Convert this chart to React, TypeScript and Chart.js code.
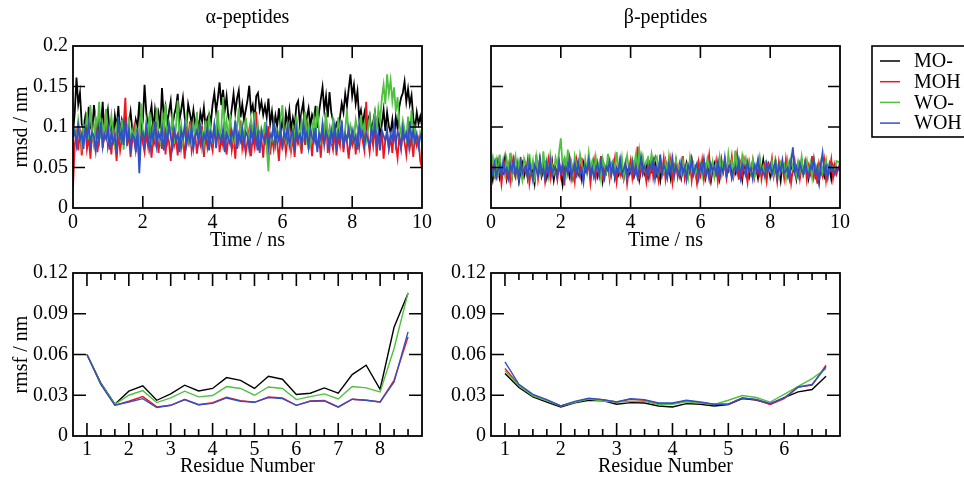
import React, { useEffect, useRef } from "react";
import { Chart, registerables } from "chart.js";

Chart.register(...registerables);

// ---------------- data ----------------
const SERIES_NAMES = ["MO-", "MOH", "WO-", "WOH"];
const PANEL_TITLES = ["α-peptides", "β-peptides"];
const TIME_STEP_NS = 0.05;
const TIME_TICKS = [0, 2, 4, 6, 8, 10];
const RMSD_TICKS = [0, 0.05, 0.1, 0.15, 0.2];
const RMSF_TICKS = [0, 0.03, 0.06, 0.09, 0.12];
const ALPHA_RESIDUE_TICKS = [1, 2, 3, 4, 5, 6, 7, 8];
const BETA_RESIDUE_TICKS = [1, 2, 3, 4, 5, 6];

// α-peptides rmsd (nm), sampled every 0.05 ns
const alphaRmsdMO = [
  .092,.118,.161,.128,.142,.104,.097,.112,.089,.125,
  .101,.094,.127,.108,.086,.119,.099,.131,.092,.106,
  .121,.095,.103,.087,.114,.098,.126,.091,.108,.097,
  .112,.088,.104,.119,.096,.085,.109,.101,.131,.094,
  .107,.152,.118,.099,.113,.126,.095,.121,.104,.117,
  .098,.148,.112,.125,.103,.119,.132,.101,.115,.124,
  .141,.108,.121,.136,.112,.098,.128,.117,.104,.121,
  .102,.113,.095,.118,.107,.124,.099,.111,.116,.105,
  .128,.142,.119,.135,.155,.127,.146,.121,.138,.113,
  .106,.123,.141,.118,.135,.145,.112,.128,.109,.121,
  .133,.151,.119,.127,.108,.138,.142,.121,.131,.115,
  .126,.112,.135,.104,.119,.097,.114,.101,.123,.095,
  .108,.091,.117,.103,.121,.096,.111,.099,.127,.132,
  .104,.119,.131,.097,.112,.123,.101,.115,.108,.126,
  .099,.118,.134,.149,.121,.138,.112,.143,.118,.108,
  .097,.104,.095,.112,.129,.118,.141,.126,.147,.165,
  .138,.152,.129,.144,.112,.121,.103,.117,.098,.109,
  .115,.094,.106,.118,.099,.112,.087,.104,.121,.095,
  .118,.101,.093,.109,.087,.112,.098,.125,.136,.142,
  .156,.131,.147,.128,.139,.111,.097,.118,.104,.113,
  .101,
];
const alphaRmsdMOH = [
  .025,.078,.092,.071,.098,.065,.084,.102,.073,.088,
  .061,.094,.079,.105,.069,.087,.112,.074,.091,.122,
  .076,.089,.066,.098,.083,.058,.093,.071,.086,.101,
  .136,.077,.091,.063,.084,.099,.072,.088,.057,.095,
  .081,.069,.092,.076,.104,.062,.087,.079,.095,.068,
  .089,.073,.118,.066,.091,.082,.058,.094,.077,.086,
  .065,.099,.074,.088,.061,.093,.082,.107,.071,.084,
  .092,.067,.086,.078,.101,.063,.089,.075,.094,.082,
  .071,.096,.084,.112,.069,.088,.077,.093,.066,.085,
  .098,.072,.087,.061,.094,.081,.108,.074,.089,.068,
  .083,.097,.064,.088,.076,.119,.071,.092,.085,.062,
  .094,.078,.101,.066,.087,.073,.095,.081,.058,.089,
  .076,.092,.068,.085,.099,.071,.088,.063,.091,.079,
  .084,.067,.096,.078,.108,.072,.089,.064,.093,.081,
  .074,.087,.062,.095,.079,.113,.068,.091,.083,.072,
  .096,.065,.088,.077,.102,.069,.092,.081,.061,.087,
  .078,.094,.066,.089,.075,.098,.083,.071,.131,.086,
  .069,.092,.077,.104,.064,.088,.079,.095,.061,.084,
  .091,.073,.087,.068,.096,.078,.062,.089,.075,.093,
  .081,.066,.099,.074,.088,.063,.092,.077,.085,.058,
  .049,
];
const alphaRmsdWO = [
  .088,.097,.082,.108,.091,.076,.103,.094,.118,.085,
  .127,.092,.079,.111,.098,.131,.086,.104,.093,.122,
  .081,.096,.114,.089,.077,.102,.093,.085,.109,.072,
  .098,.087,.113,.079,.095,.084,.101,.091,.076,.129,
  .096,.083,.107,.092,.118,.078,.101,.088,.124,.094,
  .082,.112,.097,.129,.086,.104,.091,.117,.079,.099,
  .133,.088,.103,.081,.096,.112,.084,.098,.076,.105,
  .091,.118,.083,.102,.094,.079,.108,.087,.113,.096,
  .085,.104,.092,.121,.086,.099,.137,.094,.108,.082,
  .116,.093,.081,.105,.097,.124,.088,.101,.079,.112,
  .094,.083,.109,.091,.118,.086,.102,.077,.098,.089,
  .106,.074,.045,.092,.085,.103,.079,.096,.088,.111,
  .127,.091,.082,.104,.093,.078,.099,.087,.114,.095,
  .081,.108,.092,.119,.086,.101,.075,.097,.112,.089,
  .126,.094,.083,.106,.091,.118,.087,.099,.079,.108,
  .095,.084,.112,.091,.103,.078,.097,.121,.086,.102,
  .093,.081,.109,.098,.087,.115,.092,.104,.083,.096,
  .112,.089,.101,.118,.095,.123,.108,.136,.152,.128,
  .165,.141,.158,.132,.149,.119,.137,.104,.091,.108,
  .097,.086,.113,.092,.121,.084,.099,.088,.076,.093,
  .085,
];
const alphaRmsdWOH = [
  .087,.095,.078,.101,.084,.092,.073,.098,.086,.104,
  .079,.093,.088,.071,.097,.083,.106,.076,.091,.085,
  .099,.072,.094,.081,.089,.068,.113,.086,.095,.078,
  .109,.082,.096,.074,.091,.087,.069,.098,.043,.088,
  .093,.079,.101,.085,.072,.096,.083,.107,.077,.092,
  .086,.098,.071,.094,.082,.103,.088,.075,.097,.084,
  .091,.069,.095,.086,.102,.078,.093,.081,.099,.073,
  .088,.096,.082,.105,.076,.091,.084,.099,.071,.093,
  .085,.102,.074,.094,.088,.081,.097,.069,.092,.086,
  .079,.095,.087,.108,.073,.091,.083,.098,.077,.094,
  .089,.072,.096,.084,.101,.078,.092,.068,.095,.086,
  .081,.099,.074,.091,.087,.105,.079,.093,.083,.097,
  .072,.094,.086,.101,.077,.089,.095,.071,.098,.084,
  .091,.079,.104,.086,.093,.075,.097,.088,.082,.099,
  .069,.092,.085,.102,.078,.094,.087,.073,.096,.083,
  .101,.077,.093,.086,.108,.074,.091,.084,.098,.079,
  .095,.082,.089,.072,.103,.088,.094,.078,.092,.085,
  .076,.098,.087,.104,.081,.093,.071,.096,.089,.083,
  .097,.074,.091,.085,.102,.079,.094,.088,.073,.099,
  .086,.092,.078,.107,.083,.095,.081,.091,.076,.088,
  .093,
];

// β-peptides rmsd (nm), sampled every 0.05 ns
const betaRmsdMO = [
  .048,.035,.052,.041,.057,.038,.049,.044,.061,.036,
  .047,.053,.039,.058,.042,.050,.033,.046,.055,.040,
  .051,.037,.056,.044,.048,.031,.053,.045,.060,.039,
  .046,.054,.038,.050,.043,.057,.035,.049,.041,.052,
  .044,.029,.051,.047,.056,.040,.053,.037,.048,.058,
  .042,.050,.036,.055,.045,.049,.061,.038,.047,.043,
  .053,.039,.048,.057,.034,.051,.044,.059,.040,.046,
  .055,.037,.049,.042,.058,.045,.036,.052,.047,.041,
  .050,.058,.039,.046,.053,.035,.048,.056,.043,.051,
  .038,.054,.045,.049,.060,.041,.047,.034,.052,.044,
  .057,.040,.049,.036,.053,.046,.058,.042,.048,.037,
  .052,.045,.055,.039,.047,.060,.043,.050,.035,.054,
  .041,.049,.056,.038,.052,.045,.033,.048,.055,.042,
  .050,.036,.053,.047,.058,.040,.046,.054,.039,.051,
  .044,.062,.041,.049,.035,.055,.047,.052,.038,.046,
  .057,.043,.050,.037,.053,.045,.059,.041,.048,.054,
  .039,.051,.046,.058,.042,.049,.034,.055,.047,.043,
  .052,.038,.056,.045,.050,.036,.053,.044,.059,.041,
  .048,.054,.037,.051,.045,.057,.040,.049,.032,.053,
  .046,.039,.055,.043,.050,.036,.052,.045,.049,.048,
  .050,
];
const betaRmsdMOH = [
  .044,.058,.036,.062,.041,.053,.030,.049,.057,.039,
  .052,.034,.060,.045,.038,.056,.042,.063,.037,.050,
  .043,.059,.031,.048,.055,.040,.066,.036,.051,.045,
  .057,.033,.049,.061,.038,.054,.042,.047,.035,.058,
  .040,.052,.028,.056,.043,.064,.037,.050,.033,.059,
  .046,.039,.062,.035,.053,.044,.057,.031,.049,.060,
  .038,.055,.042,.064,.034,.051,.047,.058,.036,.053,
  .045,.061,.033,.050,.041,.057,.039,.054,.030,.048,
  .059,.037,.052,.044,.076,.036,.055,.042,.049,.033,
  .056,.040,.063,.038,.051,.046,.034,.058,.043,.061,
  .036,.053,.045,.060,.032,.049,.057,.039,.054,.041,
  .064,.037,.050,.043,.058,.034,.052,.047,.031,.056,
  .042,.059,.036,.053,.048,.065,.038,.051,.040,.057,
  .033,.049,.061,.044,.055,.037,.052,.046,.063,.039,
  .050,.066,.035,.054,.041,.060,.047,.032,.056,.044,
  .058,.038,.051,.043,.062,.036,.049,.055,.034,.053,
  .046,.061,.039,.050,.033,.057,.044,.052,.037,.060,
  .041,.054,.031,.048,.059,.040,.053,.036,.050,.045,
  .057,.035,.052,.043,.064,.038,.049,.030,.055,.046,
  .039,.058,.034,.051,.045,.060,.037,.053,.042,.049,
  .055,
];
const betaRmsdWO = [
  .051,.062,.043,.058,.039,.066,.047,.055,.041,.060,
  .045,.068,.038,.053,.064,.042,.057,.049,.036,.061,
  .054,.040,.067,.046,.058,.032,.063,.048,.056,.044,
  .070,.047,.059,.041,.065,.050,.043,.062,.052,.069,
  .086,.053,.061,.044,.072,.049,.057,.040,.064,.052,
  .047,.066,.054,.039,.060,.045,.068,.050,.058,.042,
  .063,.048,.056,.037,.061,.052,.045,.067,.041,.055,
  .059,.043,.069,.050,.046,.062,.038,.054,.065,.048,
  .044,.060,.052,.066,.047,.071,.053,.064,.049,.058,
  .062,.050,.067,.055,.059,.063,.046,.061,.052,.044,
  .057,.041,.064,.048,.055,.039,.060,.046,.051,.043,
  .058,.045,.052,.038,.062,.047,.055,.042,.049,.036,
  .053,.040,.058,.046,.061,.050,.044,.057,.039,.054,
  .048,.063,.042,.056,.051,.045,.067,.049,.058,.043,
  .071,.052,.060,.047,.065,.055,.062,.048,.057,.044,
  .059,.041,.054,.050,.063,.046,.052,.038,.056,.049,
  .045,.057,.042,.060,.051,.039,.055,.047,.053,.036,
  .058,.044,.061,.048,.052,.040,.057,.046,.063,.042,
  .050,.059,.043,.055,.038,.061,.047,.053,.041,.056,
  .044,.052,.060,.039,.055,.047,.051,.043,.058,.057,
  .054,
];
const betaRmsdWOH = [
  .050,.042,.055,.038,.047,.053,.040,.058,.044,.049,
  .037,.054,.046,.059,.041,.050,.035,.056,.043,.048,
  .052,.039,.057,.045,.034,.053,.047,.041,.060,.044,
  .049,.036,.055,.043,.058,.040,.051,.046,.038,.057,
  .045,.053,.037,.050,.044,.061,.039,.047,.055,.042,
  .056,.041,.048,.032,.052,.045,.059,.043,.050,.038,
  .047,.054,.040,.057,.044,.036,.051,.046,.058,.041,
  .053,.039,.049,.045,.060,.042,.047,.055,.037,.050,
  .044,.056,.041,.052,.038,.048,.063,.043,.051,.046,
  .040,.054,.047,.058,.036,.050,.045,.066,.042,.053,
  .048,.037,.055,.044,.061,.040,.052,.046,.039,.057,
  .043,.050,.035,.053,.047,.059,.041,.049,.055,.038,
  .052,.045,.060,.040,.048,.036,.054,.046,.051,.043,
  .057,.039,.050,.044,.062,.041,.049,.053,.037,.047,
  .051,.043,.058,.038,.054,.046,.040,.056,.045,.049,
  .036,.053,.047,.060,.042,.050,.044,.039,.055,.048,
  .054,.041,.049,.057,.038,.052,.045,.059,.043,.046,
  .050,.037,.058,.075,.044,.051,.040,.055,.047,.042,
  .056,.045,.039,.052,.048,.060,.041,.050,.035,.053,
  .068,.044,.051,.038,.054,.046,.049,.042,.050,.047,
  .049,
];

// rmsf (nm) per backbone atom
const ALPHA_RESIDUE_X = [1,1.333,1.667,2,2.333,2.667,3,3.333,3.667,4,4.333,4.667,5,5.333,5.667,6,6.333,6.667,7,7.333,7.667,8,8.333,8.667];
const alphaRmsfMO  = [.060,.039,.0234,.033,.0369,.0263,.031,.0374,.0332,.035,.043,.041,.035,.044,.0418,.0305,.0315,.0354,.0315,.0452,.0521,.0344,.080,.105];
const alphaRmsfMOH = [.060,.038,.0226,.0256,.029,.0214,.0226,.0268,.023,.0246,.0285,.026,.0248,.0288,.028,.0226,.0258,.0261,.0214,.0271,.0263,.0251,.041,.073];
const alphaRmsfWO  = [.060,.0386,.0234,.030,.0334,.0246,.028,.033,.0288,.0298,.0364,.035,.030,.0361,.035,.0268,.029,.031,.0273,.0364,.0354,.0325,.0644,.1056];
const alphaRmsfWOH = [.060,.038,.0226,.025,.0275,.021,.0226,.0268,.023,.024,.028,.0256,.0248,.0283,.0275,.0226,.0256,.0258,.0212,.0271,.0263,.0251,.0398,.0767];

const BETA_RESIDUE_X = [1,1.25,1.5,1.75,2,2.25,2.5,2.75,3,3.25,3.5,3.75,4,4.25,4.5,4.75,5,5.25,5.5,5.75,6,6.25,6.5,6.75];
const betaRmsfMO  = [.046,.0357,.0288,.025,.0214,.0245,.0263,.026,.0234,.0246,.0243,.0221,.0214,.0238,.0234,.0221,.0232,.0275,.0265,.0235,.0283,.0325,.0342,.044];
const betaRmsfMOH = [.0497,.0375,.030,.0263,.0221,.025,.0275,.0268,.025,.027,.0262,.0238,.0238,.026,.0245,.0234,.0234,.028,.0268,.0231,.0275,.036,.0374,.0521];
const betaRmsfWO  = [.048,.037,.0295,.026,.0221,.0248,.0272,.0258,.025,.0255,.0255,.0231,.0233,.0252,.0242,.0232,.0263,.0298,.0283,.025,.0307,.0366,.0423,.0497];
const betaRmsfWOH = [.0546,.0381,.0307,.0268,.0221,.0255,.0278,.0268,.025,.0275,.0268,.0243,.0243,.0263,.025,.0234,.0234,.028,.027,.024,.028,.0361,.0379,.0509];

// ---------------- styles ----------------
const COLORS = ["#000000", "#f0141e", "#50c040", "#3050c8"];
const DRAW_ORDER = [4, 3, 2, 1];
const FONT_FAMILY = '"Liberation Serif", "Times New Roman", Times, serif';

Chart.defaults.font.family = FONT_FAMILY;
Chart.defaults.color = "#000";

const timePoints = (vals: number[]) => vals.map((y, i) => ({ x: i * TIME_STEP_NS, y }));
const residuePoints = (xs: number[], vals: number[]) => vals.map((y, i) => ({ x: xs[i], y }));

function makeFramePlugin(o: {
  xMajor: number[]; xMinor: number[]; yMajor: number[]; majorLen: number; minorLen: number;
}) {
  return {
    id: "frameTicks",
    afterDraw(chart: any) {
      const { ctx, chartArea: a, scales } = chart;
      const xs = scales.x, ys = scales.y;
      ctx.save();
      ctx.strokeStyle = "#000";
      ctx.lineWidth = 1.6;
      ctx.beginPath();
      const vt = (v: number, len: number) => {
        const p = xs.getPixelForValue(v);
        ctx.moveTo(p, a.bottom); ctx.lineTo(p, a.bottom - len);
        ctx.moveTo(p, a.top); ctx.lineTo(p, a.top + len);
      };
      const ht = (v: number, len: number) => {
        const p = ys.getPixelForValue(v);
        ctx.moveTo(a.left, p); ctx.lineTo(a.left + len, p);
        ctx.moveTo(a.right, p); ctx.lineTo(a.right - len, p);
      };
      o.xMajor.forEach((v) => vt(v, o.majorLen));
      o.xMinor.forEach((v) => vt(v, o.minorLen));
      o.yMajor.forEach((v) => ht(v, o.majorLen));
      ctx.stroke();
      ctx.lineWidth = 1.8;
      ctx.strokeRect(a.left, a.top, a.right - a.left, a.bottom - a.top);
      ctx.restore();
    },
  };
}

const legendPlugin = {
  id: "boxLegend",
  afterDraw(chart: any) {
    const { ctx } = chart;
    const boxL = 432, boxT = 46, boxB = 137;
    ctx.save();
    ctx.strokeStyle = "#000";
    ctx.lineWidth = 1.6;
    ctx.strokeRect(boxL, boxT, 140, boxB - boxT);
    ctx.font = `20px ${FONT_FAMILY}`;
    ctx.textBaseline = "middle";
    ctx.textAlign = "left";
    chart.data.datasets.forEach((d: any, i: number) => {
      const y = 61 + i * 20.7;
      ctx.strokeStyle = d.borderColor;
      ctx.lineWidth = 1.5;
      ctx.beginPath();
      ctx.moveTo(440, y);
      ctx.lineTo(460, y);
      ctx.stroke();
      ctx.fillStyle = "#000";
      ctx.fillText(d.label, 474, y + 1);
    });
    ctx.restore();
  },
};

type PanelSpec = {
  series: { x: number; y: number }[][];
  xMin: number; xMax: number; xTicks: number[]; xMinor: number[];
  yMin: number; yMax: number; yTicks: number[]; yMajor: number[];
  showYLabels: boolean; yTitle: string; xTitle: string; title: string;
  padding: { left: number; right: number; top: number; bottom: number };
  yWidth: number; xHeight: number; xTickPad: number;
  majorLen: number; minorLen: number; lineWidth: number; legend: boolean;
};

function buildConfig(s: PanelSpec): any {
  const plugins: any[] = [makeFramePlugin({ xMajor: s.xTicks.filter((v) => v > s.xMin && v < s.xMax), xMinor: s.xMinor, yMajor: s.yMajor, majorLen: s.majorLen, minorLen: s.minorLen })];
  if (s.legend) plugins.push(legendPlugin);
  return {
    type: "line",
    data: {
      datasets: s.series.map((pts, i) => ({
        label: SERIES_NAMES[i],
        data: pts,
        borderColor: COLORS[i],
        backgroundColor: COLORS[i],
        borderWidth: s.lineWidth,
        pointRadius: 0,
        tension: 0,
        fill: false,
        order: DRAW_ORDER[i],
      })),
    },
    options: {
      responsive: false,
      maintainAspectRatio: false,
      devicePixelRatio: 1,
      animation: false,
      events: [],
      layout: { padding: s.padding },
      plugins: {
        legend: { display: false },
        tooltip: { enabled: false },
        title: {
          display: !!s.title,
          text: s.title,
          fullSize: false,
          color: "#000",
          font: { size: 20, weight: "normal", family: FONT_FAMILY },
          padding: { top: 6, bottom: 16 },
        },
      },
      scales: {
        x: {
          type: "linear",
          min: s.xMin,
          max: s.xMax,
          afterBuildTicks: (sc: any) => { sc.ticks = s.xTicks.map((v) => ({ value: v })); },
          afterFit: (sc: any) => { sc.height = s.xHeight; },
          grid: { display: false, drawTicks: false },
          border: { display: false },
          ticks: {
            padding: s.xTickPad,
            autoSkip: false,
            maxRotation: 0,
            color: "#000",
            font: { size: 20, family: FONT_FAMILY },
            callback: (v: any) => String(v),
          },
          title: {
            display: true,
            text: s.xTitle,
            color: "#000",
            font: { size: 20, family: FONT_FAMILY },
            padding: { top: 0, bottom: 0 },
          },
        },
        y: {
          type: "linear",
          min: s.yMin,
          max: s.yMax,
          afterBuildTicks: (sc: any) => { sc.ticks = s.yTicks.map((v) => ({ value: v })); },
          afterFit: (sc: any) => { sc.width = s.yWidth; },
          grid: { display: false, drawTicks: false },
          border: { display: false },
          ticks: {
            display: s.showYLabels,
            padding: 5,
            autoSkip: false,
            color: "#000",
            font: { size: 20, family: FONT_FAMILY },
            callback: (v: any) => String(v),
          },
          title: {
            display: !!s.yTitle,
            text: s.yTitle,
            color: "#000",
            font: { size: 20, family: FONT_FAMILY },
            padding: { top: 10, bottom: 0 },
          },
        },
      },
    },
    plugins,
  };
}

function Panel(props: { left: number; top: number; width: number; height: number; spec: PanelSpec }) {
  const ref = useRef<HTMLCanvasElement>(null);
  useEffect(() => {
    const chart = new Chart(ref.current as HTMLCanvasElement, buildConfig(props.spec));
    return () => chart.destroy();
  }, []);
  return (
    <canvas
      ref={ref}
      width={props.width}
      height={props.height}
      style={{ position: "absolute", left: props.left, top: props.top, width: props.width, height: props.height }}
    />
  );
}

const alphaMinor: number[] = [];
ALPHA_RESIDUE_TICKS.forEach((r) => { alphaMinor.push(r + 1 / 3, r + 2 / 3); });
const betaMinor: number[] = [];
BETA_RESIDUE_TICKS.forEach((r) => { betaMinor.push(r + 0.25, r + 0.5, r + 0.75); });

const topLeft: PanelSpec = {
  series: [alphaRmsdMO, alphaRmsdMOH, alphaRmsdWO, alphaRmsdWOH].map(timePoints),
  xMin: 0, xMax: 10, xTicks: TIME_TICKS, xMinor: [],
  yMin: 0, yMax: 0.2, yTicks: RMSD_TICKS, yMajor: [0.05, 0.1, 0.15],
  showYLabels: true, yTitle: "rmsd / nm", xTitle: "Time / ns", title: PANEL_TITLES[0],
  padding: { left: 0, right: 18, top: 0, bottom: 0 },
  yWidth: 73, xHeight: 45, xTickPad: 3, majorLen: 12, minorLen: 6, lineWidth: 1.8, legend: false,
};
const topRight: PanelSpec = {
  series: [betaRmsdMO, betaRmsdMOH, betaRmsdWO, betaRmsdWOH].map(timePoints),
  xMin: 0, xMax: 10, xTicks: TIME_TICKS, xMinor: [],
  yMin: 0, yMax: 0.2, yTicks: RMSD_TICKS, yMajor: [0.05, 0.1, 0.15],
  showYLabels: false, yTitle: "", xTitle: "Time / ns", title: PANEL_TITLES[1],
  padding: { left: 0, right: 124, top: 0, bottom: 0 },
  yWidth: 51, xHeight: 45, xTickPad: 3, majorLen: 12, minorLen: 6, lineWidth: 1.8, legend: true,
};
const bottomLeft: PanelSpec = {
  series: [alphaRmsfMO, alphaRmsfMOH, alphaRmsfWO, alphaRmsfWOH].map((v) => residuePoints(ALPHA_RESIDUE_X, v)),
  xMin: 0.667, xMax: 9, xTicks: ALPHA_RESIDUE_TICKS, xMinor: alphaMinor.filter((v) => v < 9),
  yMin: 0, yMax: 0.12, yTicks: RMSF_TICKS, yMajor: [0.03, 0.06, 0.09],
  showYLabels: true, yTitle: "rmsf / nm", xTitle: "Residue Number", title: "",
  padding: { left: 0, right: 18, top: 20, bottom: 0 },
  yWidth: 73, xHeight: 43, xTickPad: 2, majorLen: 13, minorLen: 7, lineWidth: 1.4, legend: false,
};
const bottomRight: PanelSpec = {
  series: [betaRmsfMO, betaRmsfMOH, betaRmsfWO, betaRmsfWOH].map((v) => residuePoints(BETA_RESIDUE_X, v)),
  xMin: 0.75, xMax: 7, xTicks: BETA_RESIDUE_TICKS, xMinor: betaMinor.filter((v) => v < 7),
  yMin: 0, yMax: 0.12, yTicks: RMSF_TICKS, yMajor: [0.03, 0.06, 0.09],
  showYLabels: true, yTitle: "", xTitle: "Residue Number", title: "",
  padding: { left: 0, right: 124, top: 20, bottom: 0 },
  yWidth: 51, xHeight: 43, xTickPad: 2, majorLen: 13, minorLen: 7, lineWidth: 1.4, legend: false,
};

export default function App() {
  return (
    <div style={{ position: "absolute", left: 0, top: 0, width: 964, height: 479, background: "#fff", overflow: "hidden" }}>
      <Panel left={0} top={0} width={440} height={253} spec={topLeft} />
      <Panel left={440} top={0} width={524} height={253} spec={topRight} />
      <Panel left={0} top={253} width={440} height={226} spec={bottomLeft} />
      <Panel left={440} top={253} width={524} height={226} spec={bottomRight} />
    </div>
  );
}
